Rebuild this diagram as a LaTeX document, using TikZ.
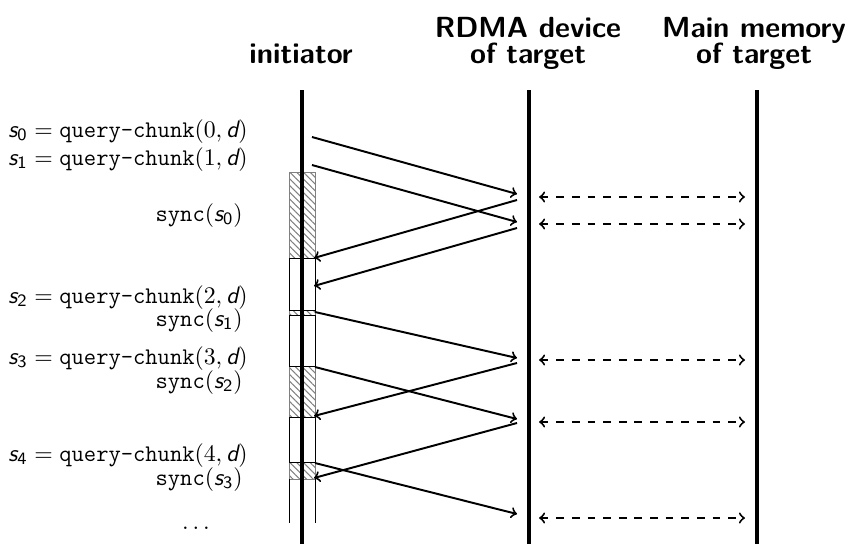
\documentclass[tikz,border=0pt]{standalone}
\usetikzlibrary{patterns.meta}
\newcommand\mv[1]{\textsf{\slshape #1}}
\newcommand\qc{\texttt{query-chunk}}
\newcommand\sy{\texttt{sync}}
\begin{document}
\begin{tikzpicture}[x=0.4608pt,y=-0.4608pt,
  life/.style={line width=1.5pt},
  msg/.style={line width=0.9pt,->},
  mem/.style={line width=0.9pt,<->,dash pattern=on 3.6pt off 3.6pt},
  hdr/.style={font=\fontsize{13.4}{16}\selectfont\sffamily\bfseries,inner sep=0pt,anchor=base},
  lbl/.style={font=\fontsize{11}{13}\selectfont,inner sep=0pt},
  lbll/.style={lbl,anchor=base west},
  lblr/.style={lbl,anchor=base east},
  busy/.style={draw=gray,line width=0.4pt,pattern={Lines[angle=-45,distance=2.2pt,line width=0.45pt]},pattern color=gray},
  idle/.style={draw=black,line width=0.4pt}]
\useasboundingbox (0,0) rectangle (849,544);

% headers
\node[hdr] (hI) at (301,63) {initiator};
\node[hdr] (hR1) at (528,37) {RDMA device};
\node[hdr] (hR2) at (528,63) {of target};
\node[hdr] (hM1) at (754,37) {Main memory};
\node[hdr] (hM2) at (754,63) {of target};

% initiator activity column
\draw[busy] (289,172) rectangle (315,258);
\draw[busy] (289,310) rectangle (315,315);
\draw[busy] (289,366) rectangle (315,417);
\draw[busy] (289,462) rectangle (315,479);
\draw[idle] (289,258) rectangle (315,310);
\draw[idle] (289,315) rectangle (315,366);
\draw[idle] (289,417) rectangle (315,462);
\draw[idle] (289,479) -- (289,523) (315,479) -- (315,523);

% lifelines
\coordinate (iT) at (302,90); \coordinate (iB) at (302,544);
\coordinate (rT) at (529,90); \coordinate (rB) at (529,544);
\coordinate (mT) at (757,90); \coordinate (mB) at (757,544);
\draw[life] (iT) -- (iB);
\draw[life] (rT) -- (rB);
\draw[life] (mT) -- (mB);

% labels
\node[lbll] (q0) at (8,137) {$\mv{s}_{\mathsf{0}} = \qc(0, \mv{d})$};
\node[lbll] (q1) at (8,165) {$\mv{s}_{\mathsf{1}} = \qc(1, \mv{d})$};
\node[lblr] (y0) at (243,221) {$\sy(\mv{s}_{\mathsf{0}})$};
\node[lbll] (q2) at (8,303) {$\mv{s}_{\mathsf{2}} = \qc(2, \mv{d})$};
\node[lblr] (y1) at (243,326) {$\sy(\mv{s}_{\mathsf{1}})$};
\node[lbll] (q3) at (8,364) {$\mv{s}_{\mathsf{3}} = \qc(3, \mv{d})$};
\node[lblr] (y2) at (243,388) {$\sy(\mv{s}_{\mathsf{2}})$};
\node[lbll] (q4) at (8,461) {$\mv{s}_{\mathsf{4}} = \qc(4, \mv{d})$};
\node[lblr] (y3) at (243,485) {$\sy(\mv{s}_{\mathsf{3}})$};
\node[lbl,anchor=base] (dd) at (196,529) {$\dots$};

% message end points
\coordinate (a1s) at (312,137); \coordinate (a1e) at (517,194);
\coordinate (a2s) at (312,165); \coordinate (a2e) at (517,222);
\coordinate (b1s) at (517,200); \coordinate (b1e) at (314,258);
\coordinate (b2s) at (517,228); \coordinate (b2e) at (314,286);
\coordinate (a3s) at (315,312); \coordinate (a3e) at (517,358);
\coordinate (b3s) at (517,363); \coordinate (b3e) at (314,416);
\coordinate (a4s) at (315,367); \coordinate (a4e) at (517,419);
\coordinate (b4s) at (517,423); \coordinate (b4e) at (314,478);
\coordinate (a5s) at (315,463); \coordinate (a5e) at (517,514);

\draw[msg] (a1s) -- (a1e);
\draw[msg] (a2s) -- (a2e);
\draw[msg] (b1s) -- (b1e);
\draw[msg] (b2s) -- (b2e);
\draw[msg] (a3s) -- (a3e);
\draw[msg] (b3s) -- (b3e);
\draw[msg] (a4s) -- (a4e);
\draw[msg] (b4s) -- (b4e);
\draw[msg] (a5s) -- (a5e);

% memory accesses
\foreach \yy/\nm in {197/m1,224/m2,360/m3,422/m4,518/m5}{
  \coordinate (\nm l) at (539,\yy);
  \coordinate (\nm r) at (745,\yy);
  \draw[mem] (\nm l) -- (\nm r);
}
\end{tikzpicture}
\end{document}
